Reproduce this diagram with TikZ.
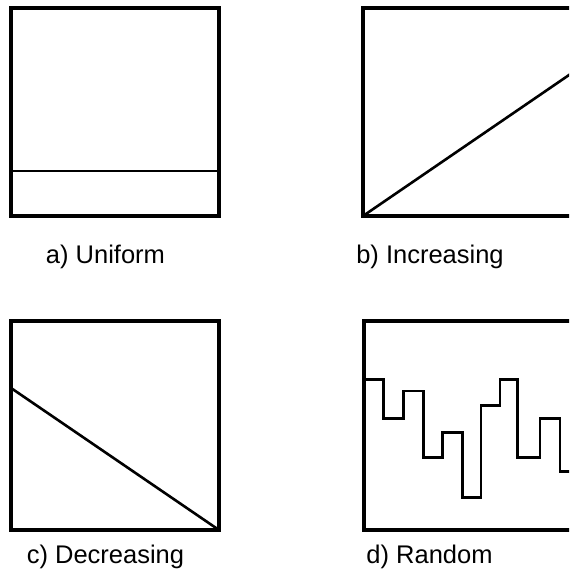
\documentclass[tikz,border=0pt]{standalone}
\usepackage{fontspec}
\setmainfont{Liberation Sans}

\begin{document}
\begin{tikzpicture}[
    x=1pt, y=-1pt,
    font=\fontsize{25.5}{30}\selectfont,
    frame/.style={line width=3.4pt},
    profile/.style={line width=2.6pt, line join=miter},
    caption/.style={anchor=base}
  ]
  \useasboundingbox (0,0) rectangle (569,585);
  \clip (0,0) rectangle (569,585);

  % a) uniform
  \draw[frame] (11,8) rectangle (219,216);
  \draw[profile] (11,171) -- (219,171);
  \node[caption] (lab-a) at (105.5,263) {a) Uniform};

  % b) increasing
  \draw[frame] (363,8) rectangle (580,216);
  \draw[profile] (363,216) -- (580,67.5);
  \node[caption] (lab-b) at (430,263) {b) Increasing};

  % c) decreasing
  \draw[frame] (11,321) rectangle (219,530);
  \draw[profile] (11,388) -- (219,530);
  \node[caption] (lab-c) at (105.5,563) {c) Decreasing};

  % d) random
  \draw[frame] (364,321) rectangle (580,530);
  \draw[profile] (364,379.3) -| (383.3,418.3) -| (403.3,391) -| (423.3,457.3)
    -| (442.7,432.3) -| (462.7,497.3) -| (481,405.7) -| (500,379.3)
    -| (517.7,457.3) -| (540,418.3) -| (560,471.7) -- (580,471.7);
  \node[caption] (lab-d) at (429.5,563) {d) Random};
\end{tikzpicture}
\end{document}
